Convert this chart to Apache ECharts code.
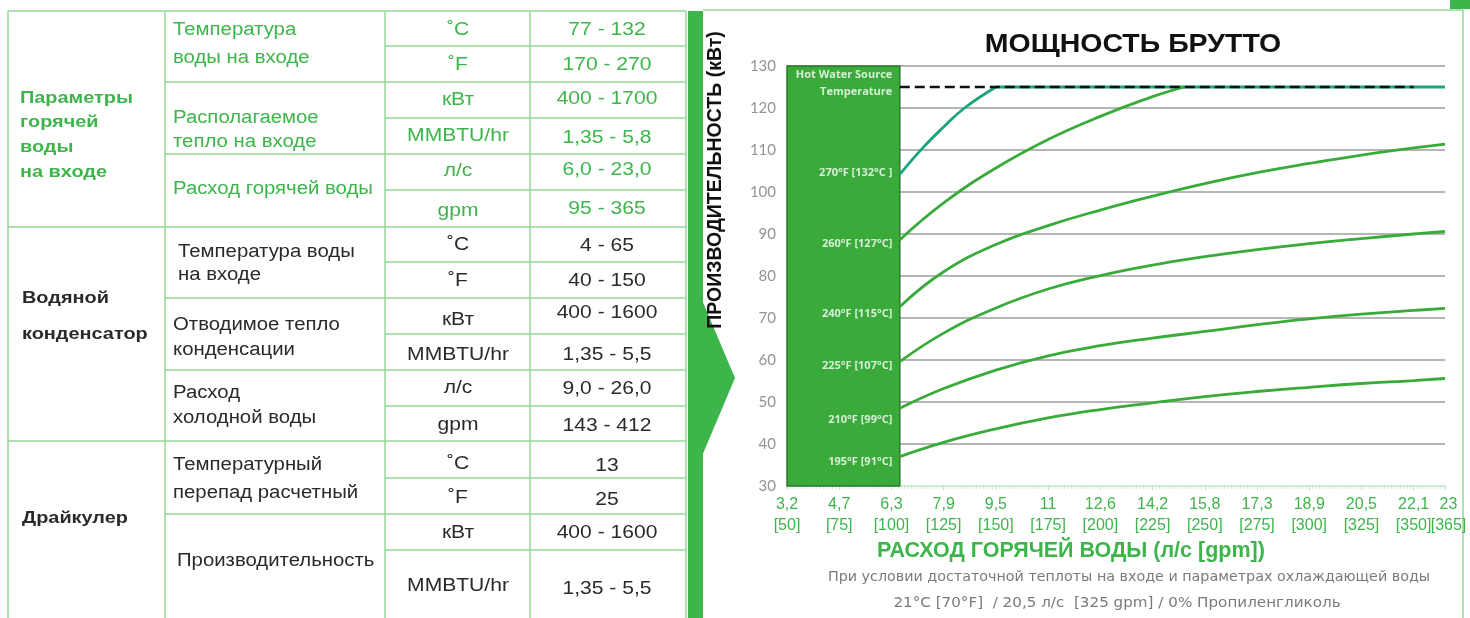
<!DOCTYPE html>
<html><head><meta charset="utf-8">
<script src="https://cdn.jsdelivr.net/npm/echarts@6/dist/echarts.min.js"></script>
<style>html,body{margin:0;padding:0;background:#fff}#c{width:1470px;height:618px}</style>
</head><body><div id="c"></div>
<script>
// ---------------- data ----------------
const gpmTicks = [50, 75, 100, 125, 150, 175, 200, 225, 250, 275, 300, 325, 350, 365];
const lpsTicks = ['3,2', '4,7', '6,3', '7,9', '9,5', '11', '12,6', '14,2', '15,8', '17,3', '18,9', '20,5', '22,1', '23'];
const flowGpm = [104, 125, 150, 175, 200, 225, 250, 275, 300, 325, 350, 365];
const gpm270 = [104, 115, 125, 135, 150];
const kw270 = [104.2, 110.5, 115.5, 120.0, 125];
const gpm270flat = [150, 365];
const kw270flat = [125, 125];
const gpm260 = [104, 125, 150, 175, 200, 225, 240];
const kw260 = [88.6, 97.4, 105.7, 112.5, 118.0, 122.7, 125];
const kw240 = [72.7, 81.0, 87.5, 92.0, 95.7, 99.0, 102.0, 104.6, 106.8, 108.8, 110.5, 111.4];
const kw225 = [59.6, 66.4, 72.4, 76.9, 80.1, 82.6, 84.6, 86.3, 87.7, 88.9, 90.0, 90.6];
const kw210 = [48.5, 53.2, 57.6, 61.0, 63.4, 65.2, 66.8, 68.4, 69.8, 70.9, 71.8, 72.3];
const kw195 = [37.0, 40.4, 43.6, 46.2, 48.2, 49.8, 51.3, 52.5, 53.5, 54.4, 55.1, 55.6];
const limitGpm = [104, 350];
const limitKw = [125, 125];
const boxGpm = [50, 104];
const boxKw = [30, 130];
const sourceLabels = ['Hot Water Source', 'Temperature', '270°F [132°C ]', '260°F [127°C]', '240°F [115°C]', '225°F [107°C]', '210°F [99°C]', '195°F [91°C]'];
const sourceLabelKw = [127.9, 123.8, 104.6, 87.6, 71.0, 58.6, 45.7, 35.7];

const groupLines = [['Параметры', 'горячей', 'воды', 'на входе'], ['Водяной', 'конденсатор'], ['Драйкулер']];
const paramLines = [
  ['Температура', 'воды на входе'], ['Располагаемое', 'тепло на входе'], ['Расход горячей воды'],
  ['Температура воды', 'на входе'], ['Отводимое тепло', 'конденсации'], ['Расход', 'холодной воды'],
  ['Температурный', 'перепад расчетный'], ['Производительность']
];
const units = ['˚C', '˚F', 'кВт', 'MMBTU/hr', 'л/с', 'gpm', '˚C', '˚F', 'кВт', 'MMBTU/hr', 'л/с', 'gpm', '˚C', '˚F', 'кВт', 'MMBTU/hr'];
const ranges = ['77 - 132', '170 - 270', '400 - 1700', '1,35 - 5,8', '6,0 - 23,0', '95 - 365', '4 - 65', '40 - 150', '400 - 1600', '1,35 - 5,5', '9,0 - 26,0', '143 - 412', '13', '25', '400 - 1600', '1,35 - 5,5'];

// ---------------- layout / styles ----------------
const GREEN = '#3db54a';
const DARK = '#2a2a2a';
const TL = '#93d898';
const ARIAL = '"Liberation Sans", Arial, sans-serif';
const g = [];
function ln(x1, y1, x2, y2, stroke, w) {
  g.push({ type: 'line', silent: true, shape: { x1, y1, x2, y2 }, style: { stroke, lineWidth: w } });
}
function tx(t, x, y, size, weight, fill, align, family, sx) {
  g.push({ type: 'text', silent: true, x, y, scaleX: sx || 1, style: {
    text: t, fill, fontSize: size, fontWeight: weight, fontFamily: family || ARIAL,
    align: align || 'left', verticalAlign: 'middle', textAlign: align || 'left', textVerticalAlign: 'middle' } });
}
// table grid
[8, 165, 385, 530, 686].forEach(x => ln(x, 11, x, 618, TL, 1.5));
[11, 227, 441].forEach(y => ln(8, y, 686, y, TL, 1.5));
[82, 154, 298, 370, 514].forEach(y => ln(165, y, 686, y, TL, 1.5));
[46, 118, 190, 262, 334, 406, 478, 550].forEach(y => ln(385, y, 686, y, TL, 1.5));
// group texts
const groupY = [[98, 122, 147, 172], [298, 334], [518]];
const groupX = [20, 22, 22];
groupLines.forEach((ls, i) => ls.forEach((t, j) => tx(t, groupX[i], groupY[i][j], 17, 'bold', i === 0 ? GREEN : DARK, 'left', ARIAL, 1.17)));
const paramY = [[30, 58], [118, 142], [189], [252, 275], [325, 350], [393, 418], [465, 493], [561]];
const paramX = [173, 173, 173, 178, 173, 173, 173, 177];
paramLines.forEach((ls, i) => ls.forEach((t, j) => tx(t, paramX[i], paramY[i][j], 18, 'normal', i < 3 ? GREEN : DARK, 'left', ARIAL, 1.13)));
const unitY = [30, 65, 100, 136, 171, 211, 245, 281, 320, 355, 388, 425, 464, 498, 533, 586];
const rangeY = [30, 65, 99, 138, 170, 209, 246, 281, 313, 355, 389, 426, 466, 500, 533, 589];
units.forEach((t, i) => tx(t, 458, unitY[i], 18, 'normal', i < 6 ? GREEN : DARK, 'center', ARIAL, 1.17));
ranges.forEach((t, i) => tx(t, 607, rangeY[i], 18, 'normal', i < 6 ? GREEN : DARK, 'center', ARIAL, 1.17));
// separator bar & chevron
g.push({ type: 'rect', silent: true, shape: { x: 688, y: 11, width: 15, height: 607 }, style: { fill: GREEN } });
g.push({ type: 'polygon', silent: true, shape: { points: [[702, 300], [735, 378], [702, 456]] }, style: { fill: GREEN } });
// panel frame
ln(703, 10, 1463, 10, TL, 1.5);
ln(1463, 10, 1463, 618, TL, 1.5);
g.push({ type: 'rect', silent: true, shape: { x: 1450, y: 0, width: 20, height: 9 }, style: { fill: GREEN } });
// titles
tx('МОЩНОСТЬ БРУТТО', 1133, 45, 25, 'bold', '#111', 'center', ARIAL, 1.14);
g.push({ type: 'text', silent: true, x: 716, y: 180, rotation: Math.PI / 2, style: {
  text: 'ПРОИЗВОДИТЕЛЬНОСТЬ (кВт)', fill: '#111', fontSize: 19.5, fontWeight: 'bold', fontFamily: ARIAL,
  align: 'center', verticalAlign: 'middle', textAlign: 'center', textVerticalAlign: 'middle' } });
tx('РАСХОД ГОРЯЧЕЙ ВОДЫ (л/с [gpm])', 1071, 551, 21.5, 'bold', GREEN, 'center');
tx('При условии достаточной теплоты на входе и параметрах охлаждающей воды', 1129, 577, 14.3, 'normal', '#7a7a7a', 'center', '"DejaVu Sans", Verdana, sans-serif');
tx('21°C [70°F]  / 20,5 л/с  [325 gpm] / 0% Пропиленгликоль', 1117, 603, 14.3, 'normal', '#7a7a7a', 'center', '"DejaVu Sans", Verdana, sans-serif', 1.06);

const pair = (xs, ys) => xs.map((x, i) => [x, ys[i]]);
const curve = (name, c, data) => ({ type: 'line', name, data, smooth: 0.45, showSymbol: false, symbol: 'none', silent: true, lineStyle: { color: c, width: 2.8 }, z: 3 });
const gridColors = ['rgba(0,0,0,0)', '#9c9c9c', '#9c9c9c', '#9c9c9c', '#9c9c9c', '#9c9c9c', '#9c9c9c', '#9c9c9c', '#9c9c9c', '#9c9c9c', '#9c9c9c'];
const xLabel = v => { const i = gpmTicks.indexOf(v); return i < 0 ? '' : lpsTicks[i] + '\n[' + gpmTicks[i] + ']'; };
const xLabelStyle = { color: GREEN, fontSize: 16, lineHeight: 21, fontFamily: ARIAL, margin: 8 };

const chart = echarts.init(document.getElementById('c'));
chart.setOption({
  animation: false,
  grid: { left: 787, right: 25, top: 66, bottom: 132 },
  xAxis: [{
    type: 'value', min: 50, max: 365, interval: 25, position: 'bottom',
    axisLine: { show: true, lineStyle: { color: '#bfe9c6', width: 1.5 } },
    axisTick: { show: true, length: 4, lineStyle: { color: '#b5e4bc' } },
    minorTick: { show: true, splitNumber: 16, length: 3, lineStyle: { color: '#c8eccd' } },
    splitLine: { show: false },
    axisLabel: Object.assign({ show: true, showMinLabel: true, showMaxLabel: false,
      formatter: v => v === 365 ? '' : xLabel(v) }, xLabelStyle)
  }, {
    type: 'value', min: 50, max: 365, interval: 25, position: 'bottom', offset: 0,
    axisLine: { show: false }, axisTick: { show: false }, minorTick: { show: false }, splitLine: { show: false },
    axisLabel: Object.assign({ show: true, showMinLabel: false, showMaxLabel: true, padding: [0, 0, 0, 7],
      formatter: v => v === 365 ? xLabel(v) : '' }, xLabelStyle)
  }],
  yAxis: {
    type: 'value', min: 30, max: 130, interval: 10,
    axisLine: { show: false }, axisTick: { show: false },
    splitLine: { show: true, lineStyle: { color: gridColors, width: 1.5 } },
    axisLabel: { color: '#949494', fontSize: 15, margin: 11, fontFamily: 'Lato, "Open Sans", sans-serif' }
  },
  graphic: g,
  series: [
    curve('270°F', '#1aa47c', pair(gpm270, kw270)),
    Object.assign(curve('270°F limit', '#1aa47c', pair(gpm270flat, kw270flat)), { smooth: false }),
    curve('260°F', '#39ab3a', pair(gpm260, kw260)),
    curve('240°F', '#39ab3a', pair(flowGpm, kw240)),
    curve('225°F', '#39ab3a', pair(flowGpm, kw225)),
    curve('210°F', '#39ab3a', pair(flowGpm, kw210)),
    curve('195°F', '#39ab3a', pair(flowGpm, kw195)),
    { type: 'line', name: 'limit', silent: true, showSymbol: false, symbol: 'none', z: 4,
      data: pair(limitGpm, limitKw), lineStyle: { color: '#111', width: 2.5, type: [10, 5] } },
    { type: 'scatter', name: 'source', silent: true, z: 6, symbolSize: 1, itemStyle: { color: 'rgba(0,0,0,0)' },
      data: sourceLabels.map((n, i) => ({ name: n, value: [boxGpm[1], sourceLabelKw[i]] })),
      label: { show: true, position: 'left', distance: 7, formatter: '{b}', color: '#fff', fontSize: 11, fontWeight: 'bold', fontFamily: '"Open Sans", sans-serif' },
      markArea: { silent: true, itemStyle: { color: '#3aaa3a', borderColor: '#2c7a2e', borderWidth: 1.5, opacity: 1 },
        data: [[{ xAxis: boxGpm[0], yAxis: boxKw[0] }, { xAxis: boxGpm[1], yAxis: boxKw[1] }]] } }
  ]
});
</script></body></html>
